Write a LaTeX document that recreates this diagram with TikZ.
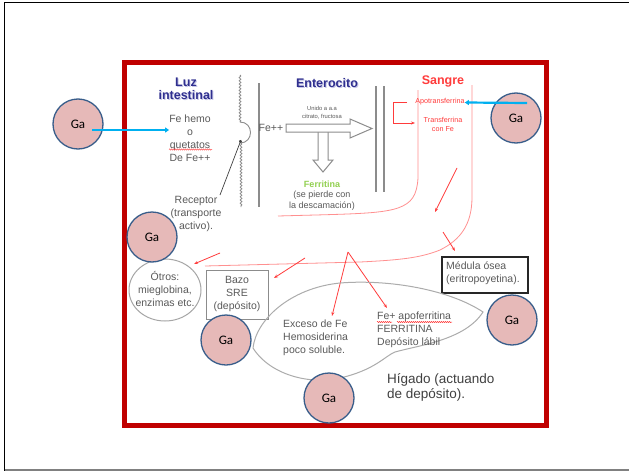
\documentclass[tikz,border=0pt]{standalone}
\usepackage{fontspec}
\setmainfont{Liberation Sans}
\newfontfamily\gafont{Carlito}
\usetikzlibrary{arrows.meta,decorations.pathmorphing,calc}
\definecolor{framered}{HTML}{C00000}
\definecolor{gafill}{HTML}{E6B9B8}
\definecolor{gaedge}{HTML}{385D8A}
\definecolor{bluearrow}{HTML}{00B0F0}
\definecolor{bloodred}{HTML}{FF3B3B}
\definecolor{softred}{HTML}{FF9090}
\definecolor{titleblue}{HTML}{2F2F8F}
\definecolor{titleshadow}{HTML}{C8C8E8}
\definecolor{txtgray}{HTML}{5A5A5A}
\definecolor{linegray}{HTML}{8C8C8C}
\definecolor{ferrgreen}{HTML}{92D050}
\begin{document}
\begin{tikzpicture}[x=1pt,y=-1pt,
  ga/.style={circle,draw=gaedge,line width=1.3pt,fill=gafill,minimum size=50pt,
    inner sep=0pt,font=\gafont\fontsize{13}{13}\selectfont},
  body/.style={text=txtgray,font=\fontsize{10.5}{13}\selectfont,align=center,inner sep=0pt},
  tiny/.style={text=txtgray,font=\fontsize{5.8}{8}\selectfont,align=center,inner sep=0pt},
  redtxt/.style={text=bloodred,font=\fontsize{7.2}{9.5}\selectfont,align=center,inner sep=0pt},
  title/.style={font=\bfseries\fontsize{12.5}{13}\selectfont,align=center,inner sep=0pt},
  bloodline/.style={softred,line width=0.8pt},
  redarrow/.style={bloodred,line width=0.8pt,-{Stealth[length=4pt,width=3pt]}},
  bluearr/.style={bluearrow,line width=2.2pt,-{Triangle[length=4pt,width=5pt]}},
  hollow/.style={draw=linegray,line width=1pt,fill=white},
  membrane/.style={linegray,line width=0.8pt,decorate,
    decoration={snake,amplitude=0.9pt,segment length=3.2pt}},
  squiggle/.style={bloodred,line width=0.5pt,decorate,
    decoration={snake,amplitude=0.6pt,segment length=2pt}}
]
\useasboundingbox (0,0) rectangle (629,471);
\fill[white] (0,0) rectangle (629,471);

% page frame
\draw[black,line width=1.6pt] (4.5,471) -- (4.5,2.5) -- (629,2.5);
\draw[gray,line width=1.2pt] (4.5,470) -- (629,470);
% red frame
\draw[framered,line width=5pt] (124.5,62.5) rectangle (546.5,425.5);

% column titles
\node[title,text=titleshadow] at (187,89.5) {Luz\\intestinal};
\node[title,text=titleblue] (luz) at (186,88.5) {Luz\\intestinal};
\node[title,text=titleshadow] at (328,84) {Enterocito};
\node[title,text=titleblue] (ent) at (327,83) {Enterocito};
\node[title,text=bloodred] (sangre) at (443,81) {Sangre};

% intestinal lumen
\node[body] (hemo) at (190,138.5) {Fe hemo\\o\\quetatos\\De Fe++};
\draw[squiggle] (169,149.5) -- (212,149.5);
\node[body] (receptor) at (196,214) {Receptor\\(transporte\\activo).};

% brush border membrane with the receptor pocket
\draw[membrane] (240,75) -- (240,122);
\draw[linegray,line width=0.9pt] (240,122) .. controls (254,122) and (254,143) .. (240,143);
\draw[membrane] (241,143) -- (241,207);
\coordinate (rcp) at (241,140);
\coordinate (rcptail) at (220,195);
\draw[black!75,line width=0.7pt,-{Circle[length=3pt]}] (rcptail) -- (rcp);

% enterocyte
\draw[linegray,line width=1.2pt] (259,83) -- (259,207);
\draw[linegray,line width=1.2pt] (376,86) -- (376,192);
\draw[linegray,line width=1.2pt] (384,86) -- (384,192);
\node[body] (fe) at (271,128) {Fe++};
\node[tiny] (unido) at (322,112.5) {Unido a a.a\\citrato, fructosa};
\draw[hollow] (318,132) -- (318,160) -- (313,160) -- (323,172) -- (333,160) -- (328,160) -- (328,132);
\draw[hollow] (286,124) -- (350,124) -- (350,119) -- (372,128.5) -- (350,138) -- (350,132) -- (286,132) -- cycle;
\node[font=\bfseries\fontsize{9}{10}\selectfont,text=ferrgreen,inner sep=0pt] (ferr) at (322,184) {Ferritina};
\node[body,font=\fontsize{9}{11}\selectfont] (pierde) at (322,201) {(se pierde con\\la descamación)};

% blood vessel
\draw[bloodline] (418,90) -- (418,178) .. controls (417,195) and (412,203) .. (398,208)
  .. controls (380,214) and (350,214) .. (278,216);
\draw[bloodline] (472,85) -- (472,197) .. controls (472,225) and (460,240) .. (440,250)
  .. controls (420,258) and (400,260) .. (360,262) -- (205,266);
\node[redtxt] (apo) at (440,102) {Apotransferrina};
\node[redtxt] (transf) at (443,124.5) {Transferrina\\con Fe};
\coordinate (brk) at (407,102);
\draw[bloodred,line width=0.8pt,-{Stealth[length=4pt,width=3pt]}] (brk) -- (393,102) -- (393,123) -- (415,123);

% red flows out of the blood
\coordinate (f1a) at (457,168); \coordinate (f1b) at (435,212);
\coordinate (f2a) at (443,232); \coordinate (f2b) at (455,251);
\coordinate (f3a) at (220,253); \coordinate (f3b) at (194,264);
\coordinate (f4a) at (305,258); \coordinate (f4b) at (274,278);
\coordinate (apex) at (348,252);
\coordinate (f5b) at (332,316); \coordinate (f6b) at (387,308);
\draw[redarrow] (f1a) -- (f1b);
\draw[redarrow] (f2a) -- (f2b);
\draw[redarrow] (f3a) -- (f3b);
\draw[redarrow] (f4a) -- (f4b);
\draw[redarrow] (apex) -- (f5b);
\draw[redarrow] (apex) -- (f6b);

% tissues
\draw[gray!70,line width=1pt] (165,290) ellipse [x radius=36, y radius=31];
\node[body] (otros) at (165,289) {Ótros:\\mieglobina,\\enzimas etc.};
\draw[linegray,line width=1pt] (206,270) rectangle (268,319);
\node[body] (bazo) at (237,294) {Bazo\\SRE\\(depósito)};
\draw[black!85,line width=1.8pt] (442,257) rectangle (528,293);
\node[body,align=left,anchor=west] (medula) at (446,273) {Médula ósea\\(eritropoyetina).};

% liver
\draw[gray!65,line width=1pt] (253,348) .. controls (256,320) and (290,288) .. (340,283)
  .. controls (390,279) and (450,290) .. (483,312)
  .. controls (465,340) and (420,345) .. (395,352)
  .. controls (385,356) and (375,370) .. (340,378)
  .. controls (310,385) and (270,375) .. (253,348);
\node[body,align=left,anchor=west] (exceso) at (283,338) {Exceso de Fe\\Hemosiderina\\poco soluble.};
\node[body,align=left,anchor=west] (apoferr) at (377,329.5) {Fe+ apoferritina\\FERRITINA\\Depósito lábil};
\draw[squiggle] (377,322) -- (392,322);
\draw[squiggle] (397,322) -- (452,322);
\node[text=black!75,font=\fontsize{13.5}{15}\selectfont,align=left,anchor=west,inner sep=0pt] (higado) at (387,387.5) {Hígado (actuando\\de depósito).};

% gallium markers
\node[ga] (ga1) at (78,124) {Ga};
\node[ga] (ga2) at (516,118) {Ga};
\node[ga] (ga3) at (152,237) {Ga};
\node[ga] (ga4) at (226,340) {Ga};
\node[ga] (ga5) at (512,320) {Ga};
\node[ga] (ga6) at (329,398) {Ga};
\draw[bluearr] ($(ga1.center)+(14,6)$) -- (hemo.west |- 0,130);
\draw[bluearr] ($(ga2.center)+(11,-15)$) -- (apo.east |- 0,102.5);
\end{tikzpicture}
\end{document}
